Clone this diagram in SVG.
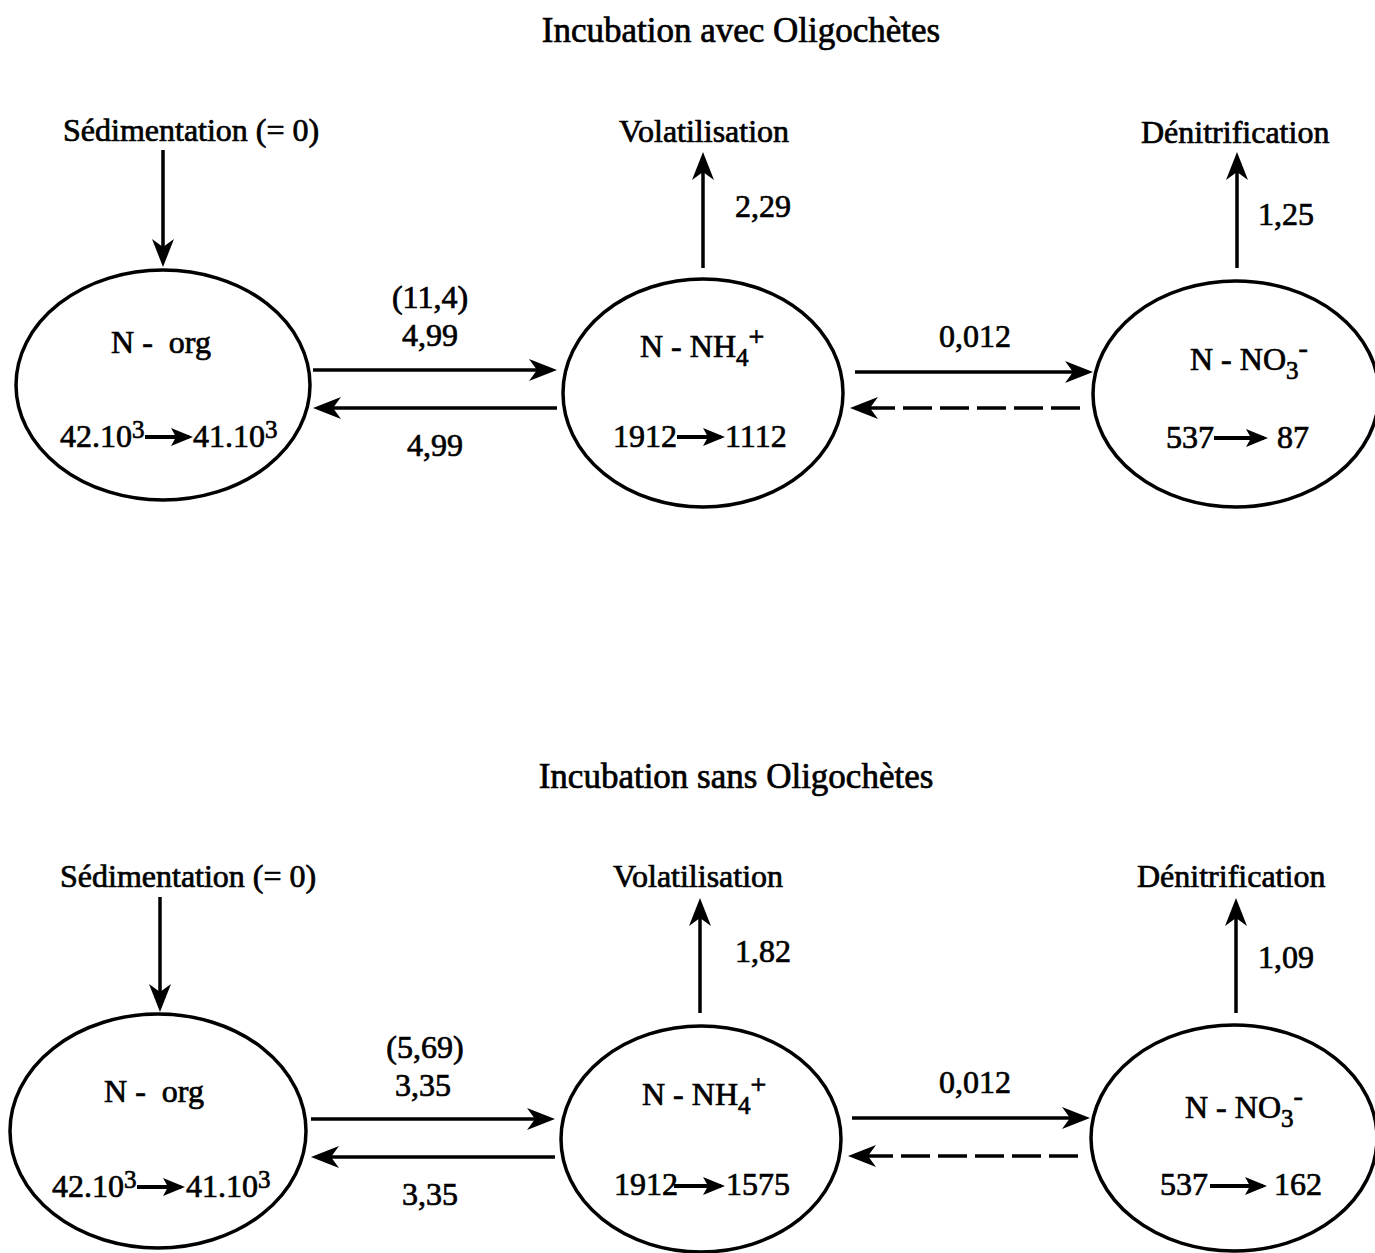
<svg xmlns="http://www.w3.org/2000/svg" width="1375" height="1253" viewBox="0 0 1375 1253">
<style>
text{font-family:"Liberation Serif","Times New Roman",serif;font-size:32px;fill:#000;stroke:#000;stroke-width:0.7}
.title{font-size:35px}
.node ellipse{fill:none;stroke:#000;stroke-width:3.5}
.sub{font-size:25px}
.sup{font-size:28px}
.c path{fill:none;stroke:#000;stroke-width:3.5}
.c path.dash{stroke-dasharray:29 8}
.ia path{fill:none;stroke:#000;stroke-width:4}
</style>
<defs>
<marker id="ah" markerUnits="userSpaceOnUse" markerWidth="40" markerHeight="30" viewBox="-30 -15 40 30" refX="0" refY="0" orient="auto">
<path d="M10,0 L-18,-11 L-10,0 L-18,11 Z" fill="#000"/>
</marker>
<marker id="ahs" markerUnits="userSpaceOnUse" markerWidth="30" markerHeight="24" viewBox="-22 -12 30 24" refX="0" refY="0" orient="auto">
<path d="M4,0 L-18,-9 L-13,0 L-18,9 Z" fill="#000"/>
</marker>
</defs>
<rect width="1375" height="1253" fill="#fff"/>

<text class="title" x="741" y="42" text-anchor="middle">Incubation avec Oligochètes</text>
<text class="title" x="736" y="788" text-anchor="middle">Incubation sans Oligochètes</text>

<g id="sed1"><text x="63" y="141">Sédimentation (= 0)</text></g>
<g id="vol1"><text x="619" y="142">Volatilisation</text></g>
<g id="den1"><text x="1141" y="143">Dénitrification</text></g>
<g id="sed2"><text x="60" y="887">Sédimentation (= 0)</text></g>
<g id="vol2"><text x="613" y="887">Volatilisation</text></g>
<g id="den2"><text x="1137" y="887">Dénitrification</text></g>

<g id="norg1" class="node">
<ellipse cx="163" cy="385" rx="147" ry="115"/>
<text x="161" y="353" text-anchor="middle">N - &#160;org</text>
<text x="60" y="447">42.10<tspan class="sub" dy="-9">3</tspan></text>
<text x="193" y="447">41.10<tspan class="sub" dy="-9">3</tspan></text>
</g>
<g id="nh41" class="node">
<ellipse cx="703" cy="393" rx="140" ry="114"/>
<text x="640" y="357">N - NH<tspan class="sub" dy="9">4</tspan><tspan class="sup" dy="-20">+</tspan></text>
<text x="613" y="447">1912</text>
<text x="725" y="447">1112</text>
</g>
<g id="no31" class="node">
<ellipse cx="1236" cy="394" rx="143" ry="113"/>
<text x="1190" y="370">N - NO<tspan class="sub" dy="9">3</tspan><tspan class="sup" dy="-22">-</tspan></text>
<text x="1166" y="448">537</text>
<text x="1277" y="448">87</text>
</g>

<g id="norg2" class="node">
<ellipse cx="158" cy="1131" rx="148" ry="117"/>
<text x="154" y="1102" text-anchor="middle">N - &#160;org</text>
<text x="52" y="1197">42.10<tspan class="sub" dy="-9">3</tspan></text>
<text x="186" y="1197">41.10<tspan class="sub" dy="-9">3</tspan></text>
</g>
<g id="nh42" class="node">
<ellipse cx="701" cy="1139" rx="140" ry="113"/>
<text x="642" y="1105">N - NH<tspan class="sub" dy="9">4</tspan><tspan class="sup" dy="-20">+</tspan></text>
<text x="614" y="1195">1912</text>
<text x="726" y="1195">1575</text>
</g>
<g id="no32" class="node">
<ellipse cx="1234" cy="1138" rx="143" ry="113"/>
<text x="1185" y="1118">N - NO<tspan class="sub" dy="9">3</tspan><tspan class="sup" dy="-22">-</tspan></text>
<text x="1160" y="1195">537</text>
<text x="1274" y="1195">162</text>
</g>

<g class="ia">
<path d="M145,437 H189" marker-end="url(#ahs)"/>
<path d="M677,437 H721" marker-end="url(#ahs)"/>
<path d="M1214,438 H1264" marker-end="url(#ahs)"/>
<path d="M137,1187 H181" marker-end="url(#ahs)"/>
<path d="M674,1186 H721" marker-end="url(#ahs)"/>
<path d="M1210,1186 H1263" marker-end="url(#ahs)"/>
</g>

<g id="connectors" class="c">
<path d="M163,150 V257" marker-end="url(#ah)"/>
<path d="M703,268 V162" marker-end="url(#ah)"/>
<path d="M1237,268 V162" marker-end="url(#ah)"/>
<path d="M313,370 H547" marker-end="url(#ah)"/>
<path d="M557,408 H323" marker-end="url(#ah)"/>
<path d="M855,372 H1083" marker-end="url(#ah)"/>
<path class="dash" d="M1080,408 H860" marker-end="url(#ah)"/>
<path d="M160,897 V1002" marker-end="url(#ah)"/>
<path d="M700,1013 V908" marker-end="url(#ah)"/>
<path d="M1236,1013 V908" marker-end="url(#ah)"/>
<path d="M311,1119 H545" marker-end="url(#ah)"/>
<path d="M555,1157 H321" marker-end="url(#ah)"/>
<path d="M852,1118 H1080" marker-end="url(#ah)"/>
<path class="dash" d="M1078,1156 H858" marker-end="url(#ah)"/>
</g>

<g id="labels">
<text x="735" y="217">2,29</text>
<text x="1258" y="225">1,25</text>
<text x="430" y="308" text-anchor="middle">(11,4)</text>
<text x="430" y="346" text-anchor="middle">4,99</text>
<text x="435" y="456" text-anchor="middle">4,99</text>
<text x="975" y="347" text-anchor="middle">0,012</text>
<text x="735" y="962">1,82</text>
<text x="1258" y="968">1,09</text>
<text x="425" y="1058" text-anchor="middle">(5,69)</text>
<text x="423" y="1096" text-anchor="middle">3,35</text>
<text x="430" y="1205" text-anchor="middle">3,35</text>
<text x="975" y="1093" text-anchor="middle">0,012</text>
</g>
</svg>
